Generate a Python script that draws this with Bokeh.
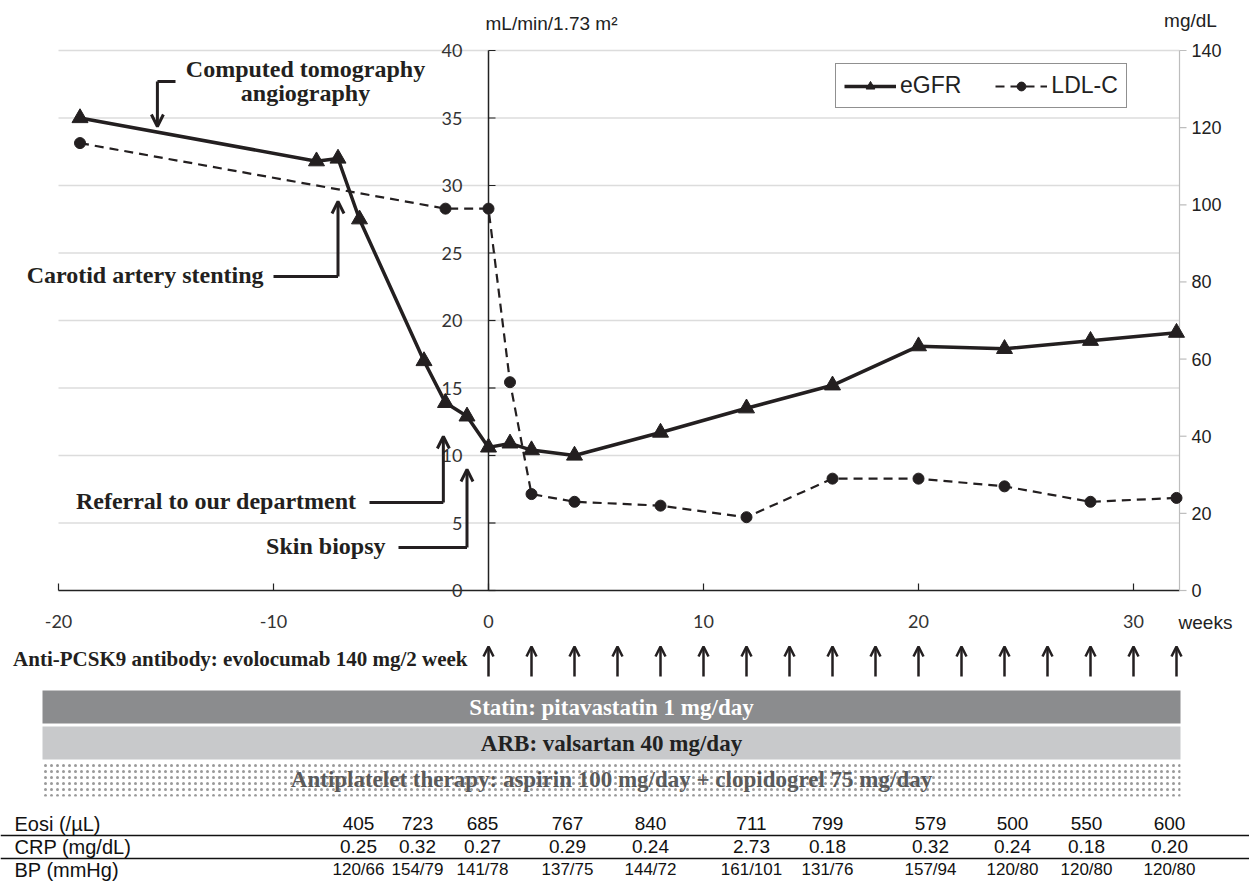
from bokeh.plotting import figure
from bokeh.models import (Range1d, Legend, LegendItem, Arrow, OpenHead, ColumnDataSource)
from bokeh.embed import file_html
from bokeh.resources import INLINE
from bokeh.core.properties import value

# ---------------- data ----------------
egfr_weeks = [-19, -8, -7, -6, -3, -2, -1, 0, 1, 2, 4, 8, 12, 16, 20, 24, 28, 32]
egfr_vals = [35.0, 31.8, 32.0, 27.5, 17.0, 13.9, 12.9, 10.6, 10.9, 10.4, 10.0,
             11.7, 13.5, 15.2, 18.1, 17.9, 18.5, 19.1]
ldl_weeks = [-19, -2, 0, 1, 2, 4, 8, 12, 16, 20, 24, 28, 32]
ldl_vals = [116, 99, 99, 54, 25, 23, 22, 19, 29, 29, 27, 23, 24]

event_labels = ["Computed tomography", "angiography", "Carotid artery stenting",
                "Referral to our department", "Skin biopsy"]
event_weeks = [-15.4, -7.0, -2.1, -1.0]
injection_weeks = [0, 2, 4, 6, 8, 10, 12, 14, 16, 18, 20, 22, 24, 26, 28, 30, 32]

left_ticks = [0, 5, 10, 15, 20, 25, 30, 35, 40]
right_ticks = [0, 20, 40, 60, 80, 100, 120, 140]
x_ticks = [-20, -10, 0, 10, 20, 30]
x_span = [-20, 32.14]

band_labels = ["Statin: pitavastatin 1 mg/day", "ARB: valsartan 40 mg/day",
               "Antiplatelet therapy: aspirin 100 mg/day + clopidogrel 75 mg/day"]
pcsk9_label = "Anti-PCSK9 antibody: evolocumab 140 mg/2 week"

table_rows = ["Eosi (/\u00b5L)", "CRP (mg/dL)", "BP (mmHg)"]
eosi = ["405", "723", "685", "767", "840", "711", "799", "579", "500", "550", "600"]
crp = ["0.25", "0.32", "0.27", "0.29", "0.24", "2.73", "0.18", "0.32", "0.24", "0.18", "0.20"]
bp = ["120/66", "154/79", "141/78", "137/75", "144/72", "161/101", "131/76",
      "157/94", "120/80", "120/80", "120/80"]

# ---------------- layout helpers (page pixel -> data units) ----------------
PX = 21.5          # pixels per week
X0 = 488           # page x of week 0
W, H = 1249, 884
def wk(px):
    return (px - X0) / PX
def gv(py):
    return (590 - py) / 13.5

SERIF = "Liberation Serif"
SANS = "Liberation Sans"
TICKF = "Lato"
INK = "#231f20"
AX = "#222222"

p = figure(width=W, height=H, x_range=Range1d(wk(0), wk(W)), y_range=Range1d(H, 0),
           output_backend="svg", toolbar_location=None, x_axis_location=None,
           y_axis_location=None, min_border=0)
p.outline_line_color = None
p.grid.visible = False
p.extra_y_ranges = {"egfr": Range1d(gv(H), gv(0)),
                    "ldl": Range1d(gv(H) * 140 / 40, gv(0) * 140 / 40)}

# ---------------- chart frame ----------------
nL = len(left_ticks)
# horizontal gridlines
p.segment(x0=[x_span[0]] * (nL - 1), x1=[x_span[1]] * (nL - 1), y0=left_ticks[1:],
          y1=left_ticks[1:], y_range_name="egfr", line_color="#dcdcdc", line_width=1.5)
# x axis
p.segment(x0=[x_span[0]], x1=[x_span[1]], y0=[0], y1=[0], y_range_name="egfr",
          line_color=AX, line_width=1.5)
p.segment(x0=x_ticks, x1=x_ticks, y0=[0] * len(x_ticks), y1=[7 / 13.5] * len(x_ticks),
          y_range_name="egfr", line_color=AX, line_width=1.2)
p.text(x=x_ticks, y=[621] * len(x_ticks), text=[str(t) for t in x_ticks], text_align="center",
       text_baseline="middle", text_font=value(TICKF), text_font_size="18px", text_color="#333333")
p.text(x=[wk(1205)], y=[622], text=["weeks"], text_align="center", text_baseline="middle",
       text_font=value(SANS), text_font_size="19px", text_color=AX)
# interior left axis at week 0
p.segment(x0=[0], x1=[0], y0=[left_ticks[0]], y1=[left_ticks[-1]], y_range_name="egfr",
          line_color=AX, line_width=1.5)
p.segment(x0=[0] * nL, x1=[7 / PX] * nL, y0=left_ticks, y1=left_ticks, y_range_name="egfr",
          line_color=AX, line_width=1.2)
p.text(x=[0] * nL, y=left_ticks, text=[str(t) for t in left_ticks], x_offset=-26,
       y_range_name="egfr", text_align="right", text_baseline="middle",
       text_font=value(TICKF), text_font_size="18px", text_color="#333333")
p.text(x=[wk(485)], y=[23], text=["mL/min/1.73 m\u00b2"], text_align="left",
       text_baseline="middle", text_font=value(SANS), text_font_size="19px", text_color=AX)
# right axis (LDL-C)
nR = len(right_ticks)
p.segment(x0=[x_span[1]], x1=[x_span[1]], y0=[right_ticks[0]], y1=[right_ticks[-1]],
          y_range_name="ldl", line_color="#bdbdbd", line_width=1.2)
p.segment(x0=[x_span[1]] * nR, x1=[x_span[1] + 7 / PX] * nR, y0=right_ticks, y1=right_ticks,
          y_range_name="ldl", line_color="#bdbdbd", line_width=1.2)
p.text(x=[x_span[1]] * nR, y=right_ticks, text=[str(t) for t in right_ticks], x_offset=12,
       y_range_name="ldl", text_align="left", text_baseline="middle",
       text_font=value(SANS), text_font_size="18px", text_color=AX)
p.text(x=[wk(1190)], y=[20], text=["mg/dL"], text_align="center", text_baseline="middle",
       text_font=value(SANS), text_font_size="19px", text_color=AX)

# ---------------- series ----------------
l1 = p.line(egfr_weeks, egfr_vals, y_range_name="egfr", line_color=INK, line_width=3.5)
s1 = p.scatter(egfr_weeks, egfr_vals, y_range_name="egfr", marker="triangle", size=16, color=INK)
l2 = p.line(ldl_weeks, ldl_vals, y_range_name="ldl", line_color=INK, line_width=2.2,
            line_dash="9 6")
s2 = p.scatter(ldl_weeks, ldl_vals, y_range_name="ldl", marker="circle", size=11, color=INK)

legend = Legend(items=[LegendItem(label="eGFR", renderers=[l1, s1]),
                       LegendItem(label="LDL-C", renderers=[l2, s2])],
                location=(835, H - 108), orientation="horizontal",
                border_line_color=AX, border_line_width=1.2,
                background_fill_color="white", background_fill_alpha=1,
                label_text_font=SANS, label_text_font_size="23px",
                label_text_color=AX, glyph_width=52, glyph_height=22,
                label_height=22, label_standoff=4, spacing=34, padding=8, margin=0)
p.add_layout(legend)

# ---------------- event annotations (page-pixel layout) ----------------
def ann_text(x, y, text, align):
    p.text(x=[x], y=[y], text=[text], text_align=align, text_baseline="middle",
           text_font=value(SERIF), text_font_style="bold", text_font_size="24px",
           text_color=INK)

def connector(x_from, x_to, y_line, y_tip):
    p.segment(x0=[x_from], y0=[y_line], x1=[x_to], y1=[y_line], line_color=INK, line_width=3)
    p.add_layout(Arrow(x_start=x_to, y_start=y_line, x_end=x_to, y_end=y_tip, line_width=3,
                       line_color=INK, end=OpenHead(size=12, line_width=3, line_color=INK)))

ann_text(wk(305), 68, event_labels[0], "center")
ann_text(wk(305), 92, event_labels[1], "center")
connector(wk(175), event_weeks[0], 81, 126)
ann_text(wk(263), 274, event_labels[2], "right")
connector(wk(273), event_weeks[1], 276, 201)
ann_text(wk(356), 500, event_labels[3], "right")
connector(wk(369), event_weeks[2], 502, 436)
ann_text(wk(385), 545, event_labels[4], "right")
connector(wk(398), event_weeks[3], 547, 469)

# ---------------- treatment panel ----------------
nI = len(injection_weeks)
src = ColumnDataSource(dict(x=injection_weeks, y0=[676] * nI, y1=[646] * nI))
p.add_layout(Arrow(source=src, x_start="x", y_start="y0", x_end="x", y_end="y1",
                   line_width=2.5, line_color=INK,
                   end=OpenHead(size=10, line_width=2.5, line_color=INK)))
p.text(x=[wk(467)], y=[658], text=[pcsk9_label], text_align="right", text_baseline="middle",
       text_font=value(SERIF), text_font_style="bold", text_font_size="21px", text_color=INK)

bl, br = wk(42), wk(1180)
p.quad(left=[bl], right=[br], top=[690], bottom=[723], fill_color="#8b8c8e", line_color=None)
p.quad(left=[bl], right=[br], top=[726], bottom=[759], fill_color="#c8c9cb", line_color=None)
p.quad(left=[bl], right=[br], top=[762], bottom=[796], fill_color="white", line_color=None,
       hatch_pattern="dot", hatch_color="#9a9a9a", hatch_scale=6, hatch_weight=1.2)
bc = (bl + br) / 2
p.text(x=[bc, bc, bc], y=[707, 743, 779], text=band_labels, text_align="center",
       text_baseline="middle", text_font=value(SERIF), text_font_style="bold",
       text_font_size="23px", text_color=["white", "#222222", "#5a5a5a"])

# ---------------- lab table ----------------
row_y = [823, 846, 869]
col_x = [wk(v) for v in [358, 417, 482, 567, 650, 751, 827, 930, 1012, 1086, 1169]]
p.segment(x0=[wk(0), wk(0)], y0=[835, 858], x1=[wk(W), wk(W)], y1=[835, 858],
          line_color="#111111", line_width=1.5)
p.text(x=[wk(14)] * 3, y=row_y, text=table_rows, text_align="left", text_baseline="middle",
       text_font=value(SANS), text_font_size="20px", text_color="#111111")
for vals, yy, fs in [(eosi, row_y[0], "19px"), (crp, row_y[1], "19px"), (bp, row_y[2], "17px")]:
    p.text(x=col_x, y=[yy] * len(vals), text=vals, text_align="center", text_baseline="middle",
           text_font=value(SANS), text_font_size=fs, text_color="#111111")

open("out.html", "w").write(file_html(p, INLINE))
